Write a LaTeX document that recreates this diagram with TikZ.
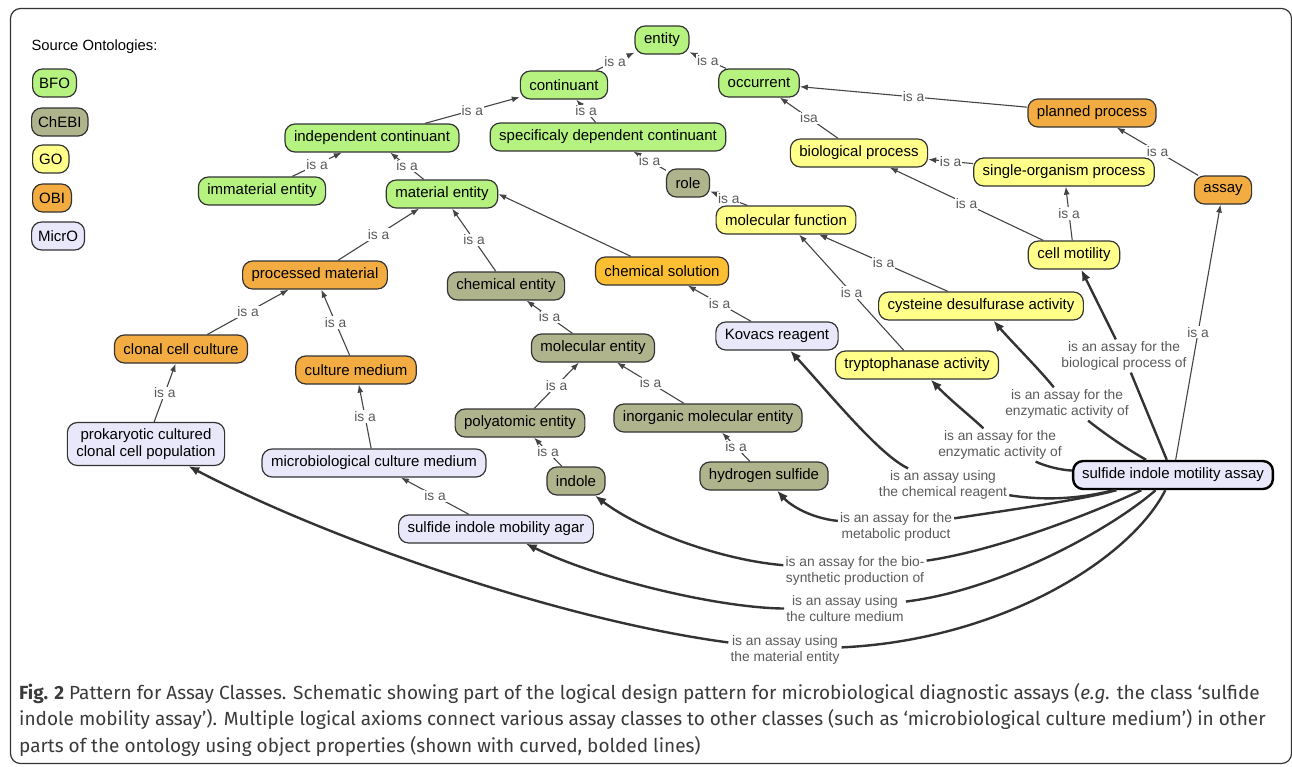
\documentclass[tikz,border=0pt]{standalone}
\usepackage{fontspec}
\setmainfont{Liberation Sans}
\newfontfamily\capfont{Fira Sans}
\usetikzlibrary{arrows.meta,positioning}
\definecolor{bfogreen}{HTML}{B5F27F}
\definecolor{chebiolive}{HTML}{B0B48C}
\definecolor{goyellow}{HTML}{FFFF8A}
\definecolor{obiorange}{HTML}{F2AC42}
\definecolor{solorange}{HTML}{FCBE32}
\definecolor{microlilac}{HTML}{E8E8FA}
\definecolor{nodeline}{HTML}{333333}
\definecolor{edgegray}{HTML}{444444}
\definecolor{labelgray}{HTML}{5A5A5A}
\definecolor{captext}{HTML}{3A3A3A}
\begin{document}
\begin{tikzpicture}[x=1pt, y=-1pt,
  concept/.style = {draw=nodeline, line width=1.2pt, rounded corners=10pt, minimum height=28pt, inner xsep=9pt, inner ysep=3pt, font=\fontsize{15}{17}\selectfont},
  bfonode/.style = {concept, fill=bfogreen},
  chebinode/.style = {concept, fill=chebiolive},
  gonode/.style = {concept, fill=goyellow},
  obinode/.style = {concept, fill=obiorange},
  micronode/.style = {concept, fill=microlilac},
  swatch/.style = {anchor=west, inner xsep=6.5pt},
  isa/.style = {draw=edgegray, line width=1.1pt, -{Latex[length=8pt,width=6pt]}},
  axiom/.style = {draw=nodeline, line width=2.4pt, -{Latex[length=11pt,width=9pt]}},
  rel/.style = {fill=white, inner sep=1pt, text=labelgray, font=\fontsize{13.8}{16}\selectfont},
  axlabel/.style = {inner sep=2pt, align=center, text=labelgray, font=\fontsize{13.8}{16}\selectfont},
  capnode/.style = {anchor=north west, align=left, inner sep=0pt, text=captext, font=\capfont\fontsize{19}{26.5}\selectfont}]
\useasboundingbox (0,0) rectangle (1292,766);
\draw[nodeline, line width=1.2pt, rounded corners=10pt] (10.5,8.5) rectangle (1291.5,763.5);

\node[anchor=west, font=\fontsize{14.8}{17}\selectfont] (srctitle) at (28,47) {Source Ontologies:};
\node[bfonode, swatch] (keybfo) at (32,83) {BFO};
\node[chebinode, swatch] (keychebi) at (31,122) {ChEBI};
\node[gonode, swatch] (keygo) at (32,159) {GO};
\node[obinode, swatch] (keyobi) at (32,198) {OBI};
\node[micronode, swatch] (keymicro) at (31,236) {MicrO};

\node[bfonode] (entity) at (662,40) {entity};
\node[bfonode] (continuant) at (564,85) {continuant};
\node[bfonode] (occurrent) at (759,83) {occurrent};
\node[bfonode] (indcont) at (372,138) {independent continuant};
\node[bfonode] (sdcont) at (608,137) {specificaly dependent continuant};
\node[bfonode] (immat) at (262,191) {immaterial entity};
\node[bfonode] (matent) at (442,194) {material entity};
\node[chebinode] (role) at (688,183) {role};
\node[gonode] (molfunc) at (786,220) {molecular function};
\node[gonode] (bioproc) at (859,153) {biological process};
\node[obinode] (planproc) at (1092,113) {planned process};
\node[gonode] (singorg) at (1064,172) {single-organism process};
\node[obinode] (assay) at (1223,190) {assay};
\node[gonode] (cellmot) at (1074,255) {cell motility};
\node[obinode] (procmat) at (315,275) {processed material};
\node[obinode] (clonal) at (181,349) {clonal cell culture};
\node[obinode] (culmed) at (356,370) {culture medium};
\node[micronode, align=center, inner ysep=6pt] (prok) at (146,444) {prokaryotic cultured\\clonal cell population};
\node[micronode] (microbio) at (374,463) {microbiological culture medium};
\node[chebinode] (chement) at (506,286) {chemical entity};
\node[concept, fill=solorange] (chemsol) at (662,271) {chemical solution};
\node[chebinode] (molent) at (593,348) {molecular entity};
\node[micronode] (kovacs) at (777,336) {Kovacs reagent};
\node[chebinode] (polyat) at (520,423) {polyatomic entity};
\node[chebinode] (inorg) at (708,418) {inorganic molecular entity};
\node[chebinode] (indole) at (576,481) {indole};
\node[chebinode] (hsulf) at (764,476) {hydrogen sulfide};
\node[micronode] (agar) at (496,529) {sulfide indole mobility agar};
\node[gonode] (cyst) at (981,306) {cysteine desulfurase activity};
\node[gonode] (trypto) at (917,365) {tryptophanase activity};
\node[micronode, draw=black, line width=2.4pt] (sima) at (1173,475) {sulfide indole motility assay};

\node[axlabel] (lbio) at (1124,356) {is an assay for the\\biological process of};
\node[axlabel] (lcyst) at (1067,404) {is an assay for the\\enzymatic activity of};
\node[axlabel] (ltryp) at (1000,445) {is an assay for the\\enzymatic activity of};
\node[axlabel] (lkov) at (943,485) {is an assay using\\the chemical reagent};
\node[axlabel] (lhs) at (896,527) {is an assay for the\\metabolic product};
\node[axlabel] (lind) at (855,571) {is an assay for the bio-\\synthetic production of};
\node[axlabel] (lagar) at (845,609) {is an assay using\\the culture medium};
\node[axlabel] (lprok) at (785,650) {is an assay using\\the material entity};

\draw[isa] (continuant) -- node[rel] {is a} (entity);
\draw[isa] (occurrent) -- node[rel] {is a} (entity);
\draw[isa] (indcont) -- node[rel] {is a} (continuant);
\draw[isa] (sdcont) -- node[rel] {is a} (continuant);
\draw[isa] (bioproc) -- node[rel] {isa} (occurrent);
\draw[isa] (planproc) -- node[rel] {is a} (occurrent);
\draw[isa] (immat) -- node[rel] {is a} (indcont);
\draw[isa] (matent) -- node[rel] {is a} (indcont);
\draw[isa] (procmat) -- node[rel] {is a} (matent);
\draw[isa] (chement) -- node[rel] {is a} (matent);
\draw[isa] (chemsol) -- (matent.east);
\draw[isa] (role) -- node[rel] {is a} (sdcont);
\draw[isa] (molfunc) -- node[rel] {is a} (role);
\draw[isa] (singorg) -- node[rel] {is a} (bioproc);
\draw[isa] (assay) -- node[rel] {is a} (planproc);
\draw[isa] (cellmot) -- node[rel] {is a} (bioproc);
\draw[isa] (cellmot) -- node[rel] {is a} (singorg);
\draw[isa] (cyst) -- node[rel] {is a} (molfunc);
\draw[isa] (trypto) -- node[rel] {is a} (molfunc);
\draw[isa] (clonal) -- node[rel] {is a} (procmat);
\draw[isa] (culmed) -- node[rel] {is a} (procmat);
\draw[isa] (prok) -- node[rel] {is a} (clonal);
\draw[isa] (microbio) -- node[rel] {is a} (culmed);
\draw[isa] (molent) -- node[rel] {is a} (chement);
\draw[isa] (kovacs) -- node[rel] {is a} (chemsol);
\draw[isa] (polyat) -- node[rel] {is a} (molent);
\draw[isa] (inorg) -- node[rel] {is a} (molent);
\draw[isa] (indole) -- node[rel] {is a} (polyat);
\draw[isa] (hsulf) -- node[rel] {is a} (inorg);
\draw[isa] (agar) -- node[rel] {is a} (microbio);
\draw[isa] (sima) -- node[rel] {is a} (assay);

\draw[axiom] (sima) -- (lbio) -- (cellmot);
\draw[axiom] (sima) .. controls (1120,445) and (1100,430) .. (lcyst) .. controls (1040,370) and (1010,340) .. (cyst);
\draw[axiom] (sima) .. controls (1060,470) and (1045,466) .. (ltryp) .. controls (975,420) and (950,400) .. (trypto);
\draw[axiom] (sima) .. controls (1075,500) and (1040,500) .. (lkov) .. controls (880,455) and (835,400) .. (kovacs);
\draw[axiom] (sima) .. controls (1080,500) and (1010,510) .. (lhs) .. controls (810,518) and (790,505) .. (hsulf);
\draw[axiom] (sima) .. controls (1100,510) and (1000,550) .. (lind) .. controls (720,560) and (640,530) .. (indole);
\draw[axiom] (sima) .. controls (1110,530) and (1000,590) .. (lagar) .. controls (720,608) and (600,580) .. (agar);
\draw[axiom] (sima) .. controls (1130,560) and (1000,640) .. (lprok) .. controls (560,620) and (330,540) .. (prok);

\node[capnode] (figcap) at (19,683) {\textbf{Fig. 2} Pattern for Assay Classes. Schematic showing part of the logical design pattern for microbiological diagnostic assays (\textit{e.g.} the class ‘sulfide\\indole mobility assay’). Multiple logical axioms connect various assay classes to other classes (such as ‘microbiological culture medium’) in other\\parts of the ontology using object properties (shown with curved, bolded lines)};
\end{tikzpicture}
\end{document}
